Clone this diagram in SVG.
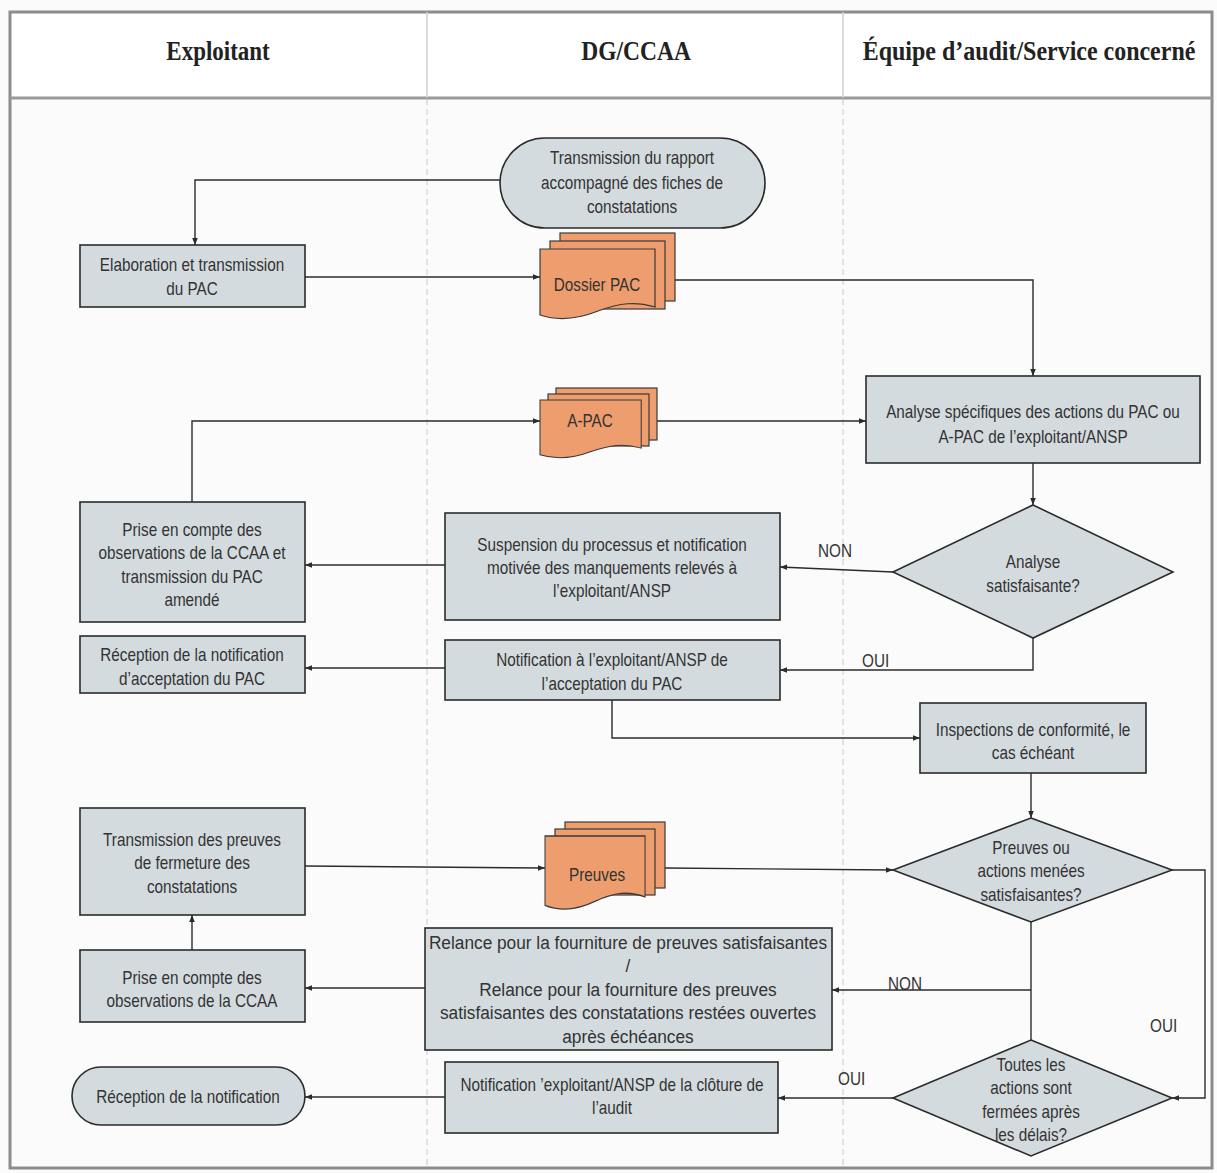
<svg xmlns="http://www.w3.org/2000/svg" width="1217" height="1173" viewBox="0 0 1217 1173">
<style>
.bg{fill:#fbfbfb}
.frame{fill:none;stroke:#8c8c8c;stroke-width:3}
.lane{stroke:#c8c8c8;stroke-width:1;stroke-dasharray:6 4}
.hdiv{stroke:#cfcfcf;stroke-width:1.5}
.hd{font-family:"Liberation Serif","Times New Roman",serif;font-weight:bold;font-size:28px;fill:#222;text-anchor:middle}
.box{fill:#d4dbde;stroke:#2b2b2b;stroke-width:1.6}
.doc{fill:#ee9e6e;stroke:#3a3a3a;stroke-width:1.2}
.t{font-family:"Liberation Sans",Arial,sans-serif;font-size:18px;fill:#333;text-anchor:middle}
.lbl{font-family:"Liberation Sans",Arial,sans-serif;font-size:18px;fill:#333}
.c{fill:none;stroke:#2b2b2b;stroke-width:1.4}
</style>
<defs>
<marker id="ah" viewBox="0 0 10 10" refX="10" refY="5" markerWidth="7" markerHeight="7" orient="auto" markerUnits="userSpaceOnUse">
<path d="M0,1 L10,5 L0,9 Z" fill="#2b2b2b"/>
</marker>
<path id="page" d="M0,0 H115 V58 C95,52 80,54 58,62 C38,70 18,72 0,66 Z"/>
</defs>
<rect class="bg" x="0" y="0" width="1217" height="1173"/>
<rect x="10" y="12" width="1202" height="86" fill="#ffffff"/>
<rect class="frame" x="10" y="12" width="1202" height="1156"/>
<line x1="10" y1="98" x2="1212" y2="98" stroke="#9a9a9a" stroke-width="3"/>
<line class="hdiv" x1="427" y1="12" x2="427" y2="98"/>
<line class="hdiv" x1="843" y1="12" x2="843" y2="98"/>
<line class="lane" x1="427" y1="99" x2="427" y2="1167"/>
<line class="lane" x1="843" y1="99" x2="843" y2="1167"/>
<text class="hd" transform="translate(218,0) scale(0.82,1)" x="0" y="60">Exploitant</text>
<text class="hd" transform="translate(636,0) scale(0.84,1)" x="0" y="60">DG/CCAA</text>
<text class="hd" transform="translate(1029,0) scale(0.856,1)" x="0" y="60">Équipe d’audit/Service concerné</text>

<g id="connectors">
<polyline class="c" points="500,180 195,180 195,245" marker-end="url(#ah)"/>
<line class="c" x1="305" y1="277" x2="540" y2="277" marker-end="url(#ah)"/>
<polyline class="c" points="675,280 1033,280 1033,376" marker-end="url(#ah)"/>
<line class="c" x1="657" y1="421" x2="866" y2="421" marker-end="url(#ah)"/>
<polyline class="c" points="192,502 192,421 540,421" marker-end="url(#ah)"/>
<line class="c" x1="1033" y1="463" x2="1033" y2="505" marker-end="url(#ah)"/>
<line class="c" x1="893" y1="572" x2="780" y2="567" marker-end="url(#ah)"/>
<line class="c" x1="445" y1="565" x2="305" y2="565" marker-end="url(#ah)"/>
<polyline class="c" points="1033,638 1033,670 780,670" marker-end="url(#ah)"/>
<line class="c" x1="445" y1="668" x2="305" y2="668" marker-end="url(#ah)"/>
<polyline class="c" points="612,700 612,738 920,738" marker-end="url(#ah)"/>
<line class="c" x1="1031" y1="773" x2="1031" y2="818" marker-end="url(#ah)"/>
<line class="c" x1="305" y1="866" x2="545" y2="868" marker-end="url(#ah)"/>
<line class="c" x1="665" y1="868" x2="893" y2="870" marker-end="url(#ah)"/>
<line class="c" x1="1031" y1="922" x2="1031" y2="1040"/>
<line class="c" x1="1031" y1="990" x2="832" y2="990" marker-end="url(#ah)"/>
<polyline class="c" points="1172,870 1205,870 1205,1098 1172,1098" marker-end="url(#ah)"/>
<line class="c" x1="893" y1="1098" x2="778" y2="1098" marker-end="url(#ah)"/>
<line class="c" x1="445" y1="1097" x2="305" y2="1097" marker-end="url(#ah)"/>
<line class="c" x1="425" y1="988" x2="305" y2="988" marker-end="url(#ah)"/>
<line class="c" x1="192" y1="950" x2="192" y2="915" marker-end="url(#ah)"/>
<text class="lbl" transform="translate(818,0) scale(0.85,1)" x="0" y="557">NON</text>
<text class="lbl" transform="translate(862,0) scale(0.85,1)" x="0" y="667">OUI</text>
<text class="lbl" transform="translate(888,0) scale(0.85,1)" x="0" y="990">NON</text>
<text class="lbl" transform="translate(1150,0) scale(0.85,1)" x="0" y="1032">OUI</text>
<text class="lbl" transform="translate(838,0) scale(0.85,1)" x="0" y="1085">OUI</text>
</g>

<g id="n1">
<rect class="box" x="500" y="138" width="265" height="90" rx="45"/>
<g transform="translate(632,0) scale(0.85,1)">
<text class="t" x="0" y="164">Transmission du rapport</text>
<text class="t" x="0" y="189">accompagné des fiches de</text>
<text class="t" x="0" y="213">constatations</text>
</g>
</g>
<g id="n2">
<rect class="box" x="80" y="245" width="225" height="62"/>
<g transform="translate(192,0) scale(0.85,1)">
<text class="t" x="0" y="271">Elaboration et transmission</text>
<text class="t" x="0" y="295">du PAC</text>
</g>
</g>
<g id="n3">
<rect class="doc" x="560" y="233" width="115" height="68"/>
<rect class="doc" x="550" y="241" width="115" height="68"/>
<use href="#page" class="doc" x="540" y="249"/>
<text class="t" transform="translate(597,0) scale(0.85,1)" x="0" y="291">Dossier PAC</text>
</g>
<g id="n4">
<rect class="box" x="866" y="376" width="334" height="87"/>
<g transform="translate(1033,0) scale(0.85,1)">
<text class="t" x="0" y="418">Analyse spécifiques des actions du PAC ou</text>
<text class="t" x="0" y="443">A-PAC de l’exploitant/ANSP</text>
</g>
</g>
<g id="n5">
<rect class="doc" x="556" y="388" width="101" height="52"/>
<rect class="doc" x="548" y="394" width="101" height="52"/>
<use href="#page" class="doc" transform="translate(540,400) scale(0.88,0.83)"/>
<text class="t" transform="translate(590,0) scale(0.85,1)" x="0" y="427">A-PAC</text>
</g>
<g id="n6">
<polygon class="box" points="1033,505 1173,572 1033,638 893,572"/>
<g transform="translate(1033,0) scale(0.85,1)">
<text class="t" x="0" y="568">Analyse</text>
<text class="t" x="0" y="592">satisfaisante?</text>
</g>
</g>
<g id="n7">
<rect class="box" x="445" y="513" width="335" height="107"/>
<g transform="translate(612,0) scale(0.85,1)">
<text class="t" x="0" y="551">Suspension du processus et notification</text>
<text class="t" x="0" y="574">motivée des manquements relevés à</text>
<text class="t" x="0" y="597">l’exploitant/ANSP</text>
</g>
</g>
<g id="n8">
<rect class="box" x="80" y="502" width="225" height="120"/>
<g transform="translate(192,0) scale(0.85,1)">
<text class="t" x="0" y="536">Prise en compte des</text>
<text class="t" x="0" y="559">observations de la CCAA et</text>
<text class="t" x="0" y="583">transmission du PAC</text>
<text class="t" x="0" y="606">amendé</text>
</g>
</g>
<g id="n9">
<rect class="box" x="80" y="636" width="225" height="57"/>
<g transform="translate(192,0) scale(0.85,1)">
<text class="t" x="0" y="661">Réception de la notification</text>
<text class="t" x="0" y="685">d’acceptation du PAC</text>
</g>
</g>
<g id="n10">
<rect class="box" x="445" y="640" width="335" height="60"/>
<g transform="translate(612,0) scale(0.85,1)">
<text class="t" x="0" y="666">Notification à l’exploitant/ANSP de</text>
<text class="t" x="0" y="690">l’acceptation du PAC</text>
</g>
</g>
<g id="n11">
<rect class="box" x="920" y="703" width="226" height="70"/>
<g transform="translate(1033,0) scale(0.85,1)">
<text class="t" x="0" y="736">Inspections de conformité, le</text>
<text class="t" x="0" y="759">cas échéant</text>
</g>
</g>
<g id="n12">
<polygon class="box" points="1031,818 1172,870 1031,922 893,870"/>
<g transform="translate(1031,0) scale(0.85,1)">
<text class="t" x="0" y="854">Preuves ou</text>
<text class="t" x="0" y="877">actions menées</text>
<text class="t" x="0" y="901">satisfaisantes?</text>
</g>
</g>
<g id="n13">
<rect class="box" x="80" y="808" width="225" height="107"/>
<g transform="translate(192,0) scale(0.85,1)">
<text class="t" x="0" y="846">Transmission des preuves</text>
<text class="t" x="0" y="869">de fermeture des</text>
<text class="t" x="0" y="893">constatations</text>
</g>
</g>
<g id="n14">
<rect class="doc" x="565" y="822" width="100" height="66"/>
<rect class="doc" x="555" y="829" width="100" height="66"/>
<use href="#page" class="doc" transform="translate(545,836) scale(0.87,1.05)"/>
<text class="t" transform="translate(597,0) scale(0.85,1)" x="0" y="881">Preuves</text>
</g>
<g id="n15">
<rect class="box" x="80" y="950" width="225" height="72"/>
<g transform="translate(192,0) scale(0.85,1)">
<text class="t" x="0" y="984">Prise en compte des</text>
<text class="t" x="0" y="1007">observations de la CCAA</text>
</g>
</g>
<g id="n16">
<rect class="box" x="425" y="928" width="407" height="122"/>
<g transform="translate(628,0) scale(0.96,1)">
<text class="t" x="0" y="949">Relance pour la fourniture de preuves satisfaisantes</text>
<text class="t" x="0" y="972">/</text>
<text class="t" x="0" y="996">Relance pour la fourniture des preuves</text>
<text class="t" x="0" y="1019">satisfaisantes des constatations restées ouvertes</text>
<text class="t" x="0" y="1043">après échéances</text>
</g>
</g>
<g id="n17">
<polygon class="box" points="1031,1040 1172,1098 1031,1156 893,1098"/>
<g transform="translate(1031,0) scale(0.85,1)">
<text class="t" x="0" y="1071">Toutes les</text>
<text class="t" x="0" y="1094">actions sont</text>
<text class="t" x="0" y="1118">fermées après</text>
<text class="t" x="0" y="1141">les délais?</text>
</g>
</g>
<g id="n18">
<rect class="box" x="445" y="1062" width="333" height="71"/>
<g transform="translate(612,0) scale(0.85,1)">
<text class="t" x="0" y="1091">Notification ’exploitant/ANSP de la clôture de</text>
<text class="t" x="0" y="1114">l’audit</text>
</g>
</g>
<g id="n19">
<rect class="box" x="72" y="1067" width="233" height="58" rx="29"/>
<text class="t" transform="translate(188,0) scale(0.85,1)" x="0" y="1103">Réception de la notification</text>
</g>
</svg>
